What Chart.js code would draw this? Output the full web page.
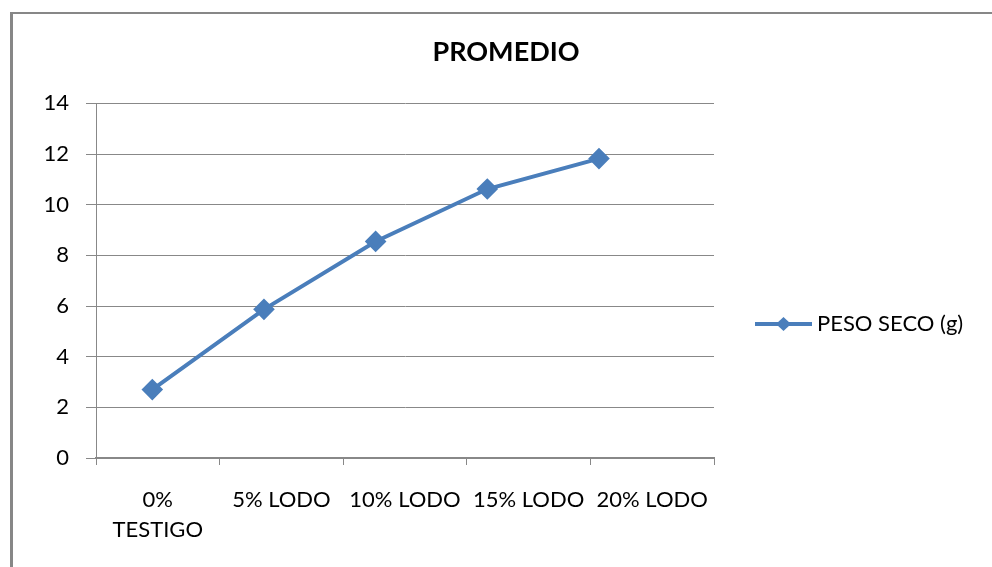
<!DOCTYPE html>
<html>
<head>
<meta charset="utf-8">
<script src="https://cdn.jsdelivr.net/npm/chart.js@4.4.1/dist/chart.umd.min.js"></script>
<style>
  html, body { margin: 0; padding: 0; background: #fff; }
  #frame { position: absolute; left: 10px; top: 12px; width: 990px; height: 560px;
           border-top: 2px solid #878787; border-left: 3px solid #878787; }
  #wrap { position: absolute; left: 0; top: 0; width: 992px; height: 567px; }
  #fontwarm { position: absolute; left: -999px; font-family: Lato; }
</style>
</head>
<body>
<div id="fontwarm">PESO <b>PROMEDIO</b></div>
<div id="frame"></div>
<div id="wrap"><canvas id="c" width="992" height="567"></canvas></div>
<script>
// data
var TITLE = 'PROMEDIO';
var SERIES_LABEL = 'PESO SECO (g)';
var categories = [['0%', 'TESTIGO'], '5% LODO', '10% LODO', '15% LODO', '20% LODO'];
var pesoSeco = [2.7, 5.87, 8.55, 10.62, 11.82];
var yMin = 0, yMax = 14, yStep = 2;

var BLUE = '#4a7ebb';
var GRID = '#888888';
var FONT = 'Lato, "Open Sans", sans-serif';
var PLOT_LEFT = 96, PLOT_RIGHT = 714;
var yWidth = 61;

// little "line + diamond" sample used by the legend
function legendMark(color) {
  var c = document.createElement('canvas');
  c.width = 57; c.height = 16;
  var g = c.getContext('2d');
  g.strokeStyle = color; g.lineWidth = 4;
  g.beginPath(); g.moveTo(0, 8); g.lineTo(57, 8); g.stroke();
  g.fillStyle = color;
  g.beginPath(); g.moveTo(21, 8); g.lineTo(28.5, 1); g.lineTo(36, 8); g.lineTo(28.5, 15); g.closePath(); g.fill();
  return c;
}

var chart = new Chart(document.getElementById('c'), {
  type: 'line',
  data: {
    labels: categories,
    datasets: [{
      label: SERIES_LABEL,
      data: pesoSeco.map(function (v, i) { return { x: i, y: v }; }),
      xAxisID: 'xl',
      borderColor: BLUE,
      backgroundColor: BLUE,
      borderWidth: 4,
      pointStyle: 'rectRot',
      pointRadius: 8,
      pointHoverRadius: 8,
      tension: 0,
    }],
  },
  options: {
    responsive: false,
    animation: false,
    layout: { padding: { left: 35, right: 15, top: 0, bottom: 0 } },
    plugins: {
      tooltip: { enabled: false },
      title: {
        display: true, text: TITLE, color: '#000',
        font: { family: FONT, size: 27, weight: 'bold' },
        padding: { top: 36, bottom: 35 },
      },
      legend: {
        position: 'right', align: 'center', maxWidth: 400,
        title: { display: true, text: ' ', font: { size: 10 }, padding: { top: 69, bottom: 0 } },
        labels: {
          usePointStyle: true, pointStyle: legendMark(BLUE), pointStyleWidth: 45,
          padding: 47, color: '#000', font: { family: FONT, size: 22 },
        },
      },
    },
    scales: {
      x: {
        type: 'category', labels: categories, offset: true,
        grid: { display: true, drawOnChartArea: false, drawTicks: true, tickLength: 7, color: GRID, offset: true },
        border: { color: GRID, width: 2 },
        ticks: { color: '#000', font: { family: FONT, size: 22, lineHeight: 1.36 }, padding: 20, maxRotation: 0, autoSkip: false },
        afterFit: function (s) { s.height = 109; },
      },
      // points in the reference sit a bit left of the category centres
      xl: { type: 'linear', axis: 'x', display: false, min: -0.504, max: 5.03 },
      y: {
        min: yMin, max: yMax,
        ticks: { stepSize: yStep, color: '#000', font: { family: FONT, size: 22 }, padding: 17 },
        grid: { color: GRID, tickLength: 10 },
        border: { color: GRID, width: 1 },
        afterFit: function (s) { s.width = yWidth; },
      },
    },
  },
});

// nudge padding so the plot area lands where the reference has it
function refit() {
  var p = chart.options.layout.padding;
  for (var k = 0; k < 3; k++) {
    var d = chart.chartArea.right - PLOT_RIGHT;
    p.right = Math.max(0, p.right + d);
    p.left = p.right + 20;
    yWidth = Math.max(40, PLOT_LEFT - p.left);
    chart.update();
  }
}
refit();
Promise.all([
  document.fonts.load('22px Lato'),
  document.fonts.load('bold 27px Lato'),
]).then(function () { chart.update(); refit(); });
</script>
</body>
</html>
